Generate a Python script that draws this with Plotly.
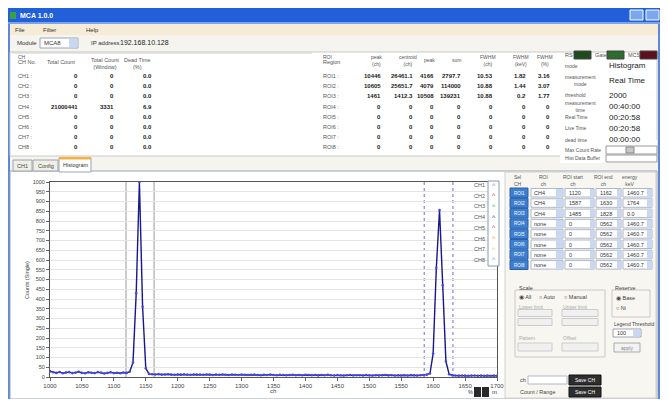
import plotly.graph_objects as go

# ---------------- data ----------------
CHANNELS = list(range(1000, 1701, 5))
COUNTS = (
    [30, 24, 21, 26, 19, 23, 25, 20, 22, 27,
     21, 19, 24, 22, 20, 25, 23, 18, 21, 24,
     20, 22, 19, 23, 21]
    + [28, 75, 430, 1000, 360, 45, 16]
    + [14, 13, 15, 12, 13, 14, 12, 11, 13, 12,
       14, 12, 11, 13, 12, 12, 11, 13, 12, 10,
       12, 11, 13, 11, 10, 12, 11, 10, 12, 11,
       10, 11, 12, 10, 9, 11, 10, 12, 10, 9,
       11, 10, 9, 10, 11, 9, 10, 9, 11, 10,
       9, 10, 8, 10, 9, 11, 9, 8, 10, 9,
       8, 9, 10, 8, 9, 9, 8, 10, 9, 8,
       9, 8, 9, 10, 8, 9, 8, 9, 8, 9,
       8, 10, 9, 8, 9, 10, 12]
    + [18, 120, 560, 856, 470, 80, 14]
    + [9, 8, 7, 8, 7, 6, 7, 8, 6, 7, 6, 7, 6, 7, 6]
)
X_TICKS = list(range(1000, 1701, 50))
Y_TICKS = list(range(0, 1001, 50))
ROI_SOLID = [1119, 1163]
ROI_DASHED = [1586, 1631]
LEGEND_NAMES = ["CH1", "CH2", "CH3", "CH4", "CH5", "CH6", "CH7", "CH8"]
LEGEND_COLORS = ["#8a8ab0", "#e03030", "#40b040", "#3030e0",
                 "#c04040", "#f0a040", "#d8d040", "#40c0e0"]

CH_ROWS = ["CH1 :", "CH2 :", "CH3 :", "CH4 :", "CH5 :", "CH6 :", "CH7 :", "CH8 :"]
TOTAL_COUNT = ["0", "0", "0", "21000441", "0", "0", "0", "0"]
WINDOW_COUNT = ["0", "0", "0", "3331", "0", "0", "0", "0"]
DEAD_TIME = ["0.0", "0.0", "0.0", "6.9", "0.0", "0.0", "0.0", "0.0"]

ROI_ROWS = ["ROI1 :", "ROI2 :", "ROI3 :", "ROI4 :", "ROI5 :", "ROI6 :", "ROI7 :", "ROI8 :"]
ROI_HEADERS = ["peak<br>(ch)", "centroid<br>(ch)", "peak", "sum", "FWHM<br>(ch)", "FWHM<br>(keV)", "FWHM<br>(%)"]
ROI_VALUES = [
    ["10446", "26461.1", "4166", "2797.7", "10.53", "1.82", "3.16"],
    ["10605", "25651.7", "4079", "114000", "10.88", "1.44", "3.07"],
    ["1461", "1412.3", "10508", "139231", "10.88", "0.2", "1.77"],
] + [["0"] * 7 for _ in range(5)]

STATUS_LABELS = ["mode", "measurement<br>mode", "threshold", "measurement<br>time",
                 "Real Time", "Live Time", "dead time"]
STATUS_VALUES = ["Histogram", "Real Time", "2000", "00:40:00", "00:20:58", "00:20:58", "00:00:00"]

SEL_ROWS = ["CH4", "CH4", "CH4", "none", "none", "none", "none", "none"]
SEL_START = ["1120", "1587", "1485", "0", "0", "0", "0", "0"]
SEL_END = ["1162", "1630", "1828", "0562", "0562", "0562", "0562", "0562"]
SEL_ENERGY = ["1460.7", "1764", "0.0", "1460.7", "1460.7", "1460.7", "1460.7", "1460.7"]

X_TITLE = "ch"
Y_TITLE = "Counts (Single)"

# ---------------- layout helpers ----------------
# The page body keeps its default 8px margin, so the figure is made 16px
# smaller than the window (no scrollbars) and all positions below are
# given in window (page) pixels.
OFF = 8
W, H = 668 - 2 * OFF, 407 - 2 * OFF
PLOT_L, PLOT_R, PLOT_T, PLOT_B = 50, 497, 182, 377   # page pixels
ML = PLOT_L - OFF
MT = PLOT_T - OFF
MR = W - (PLOT_R - OFF)
MB = H - (PLOT_B - OFF)
PW = PLOT_R - PLOT_L
PH = PLOT_B - PLOT_T
FONT = "Liberation Sans"


def px(x):
    return (x - PLOT_L) / PW


def py(y):
    return 1 - (y - PLOT_T) / PH


shapes = []
annos = []


def rect(x0, y0, x1, y1, fill, line=None, lw=1, layer="below"):
    shapes.append(dict(type="rect", xref="paper", yref="paper",
                       x0=px(x0), x1=px(x1), y0=py(y1), y1=py(y0),
                       fillcolor=fill, layer=layer,
                       line=dict(color=line or fill, width=lw if line else 0)))


def hline(x0, x1, y, color, lw=1, layer="below"):
    shapes.append(dict(type="line", xref="paper", yref="paper",
                       x0=px(x0), x1=px(x1), y0=py(y), y1=py(y),
                       line=dict(color=color, width=lw), layer=layer))


def txt(x, y, s, size=6, color="#333333", anchor="left", bold=False, angle=0):
    if bold:
        s = "<b>" + s + "</b>"
    annos.append(dict(xref="paper", yref="paper", x=px(x), y=py(y), text=s,
                      showarrow=False, xanchor=anchor, yanchor="middle",
                      textangle=angle,
                      font=dict(family=FONT, size=size, color=color),
                      borderpad=0))


# window chrome
rect(8, 8, 668, 22, "#2160d8")
rect(8, 22, 668, 24, "#7aa5ec")
rect(10, 12, 16, 19, "#3aa040")
txt(19, 15.5, "MCA 1.0.0", 7, "#ffffff", bold=True)
rect(630, 10, 643, 20, "#7aa7ee", "#ffffff")
rect(646, 10, 659, 20, "#7aa7ee", "#ffffff")
rect(8, 24, 10, 407, "#5d86dc")
rect(658, 24, 668, 407, "#5d86dc")
rect(10, 24, 658, 35, "#f6ebd6")
txt(14, 29.5, "File", 6)
txt(42, 29.5, "Filter", 6)
txt(85, 29.5, "Help", 6)

# module row
txt(16, 43, "Module", 6)
rect(40, 38, 78, 48, "#ffffff", "#9aa6b8")
txt(43, 43, "MCA8", 6)
rect(69, 39, 77, 47, "#c8d8f4")
txt(90, 43, "IP address", 6)
txt(119, 43, "192.168.10.128", 7, "#222222")

# top tables panel
rect(10, 52, 657, 156, "#ffffff", "#c8c8c8")
rect(560, 140, 657, 163, "#ffffff")
hline(12, 312, 53, "#d0d0d0")
txt(17, 57, "CH", 5, "#555555")
txt(17, 62, "CH No.", 5.5, "#555555")
txt(61, 62, "Total Count", 5.5, "#555555", anchor="center")
txt(105, 63.5, "Total Count<br>(Window)", 5.5, "#555555", anchor="center")
txt(137, 63.5, "Dead Time<br>(%)", 5.5, "#555555", anchor="center")
for i in range(8):
    yy = 76 + 10.2 * i
    txt(17, yy, CH_ROWS[i], 5.5, "#555555")
    txt(79, yy, TOTAL_COUNT[i], 6, "#222222", anchor="right", bold=True)
    txt(115, yy, WINDOW_COUNT[i], 6, "#222222", anchor="right", bold=True)
    txt(153, yy, DEAD_TIME[i], 6, "#222222", anchor="right", bold=True)

txt(322, 57, "ROI", 5, "#555555")
txt(322, 62, "Region", 5.5, "#555555")
ROI_X = [382, 414, 435, 462, 494, 527, 551]
for j, hdr in enumerate(ROI_HEADERS):
    txt(ROI_X[j] - 6, 60, hdr, 5, "#555555", anchor="center")
for i in range(8):
    yy = 76 + 10.2 * i
    txt(322, yy, ROI_ROWS[i], 5.5, "#555555")
    for j in range(7):
        txt(ROI_X[j], yy, ROI_VALUES[i][j], 6, "#222222", anchor="right", bold=True)

# status panel
txt(564, 55, "RS", 5.5, "#555555")
rect(574, 51, 591, 59, "#1e4a1e", "#444444")
txt(594, 55, "Gate", 5.5, "#555555")
rect(607, 51, 624, 59, "#2f6a2f", "#444444")
txt(627, 55, "MCS", 5.5, "#555555")
rect(640, 51, 657, 59, "#5a1020", "#444444")
STATUS_Y = [66, 80, 95, 106, 117, 128, 140]
for k in range(7):
    txt(564, STATUS_Y[k], STATUS_LABELS[k], 5, "#555555")
    txt(608, STATUS_Y[k], STATUS_VALUES[k], 8, "#222222")
txt(564, 150, "Max Count Rate", 5, "#555555")
rect(606, 146, 657, 154, "#ffffff", "#999999")
rect(626, 147, 634, 153, "#c8c8c8", "#888888")
txt(564, 158, "Hist Data Buffer", 5, "#555555")
rect(606, 155, 657, 162, "#ffffff", "#999999")

# tabs
rect(10, 171, 657, 399, "#ffffff", "#9aa4b0")
rect(13, 160, 32, 171, "#f0efe6", "#9aa4b0")
txt(22.5, 165.5, "CH1", 5.5, "#444444", anchor="center")
rect(33, 160, 58, 171, "#f0efe6", "#9aa4b0")
txt(45.5, 165.5, "Config", 5.5, "#444444", anchor="center")
rect(59, 158, 91, 172, "#ffffff", "#9aa4b0")
rect(59, 157, 91, 159.5, "#f5b040")
txt(75, 165, "Histogram", 5.5, "#333333", anchor="center")

# right control panel
rect(505, 172, 656, 398, "#f7f6f1", "#d0d0d0")
txt(518, 180, "Sel<br>CH", 5, "#555555", anchor="center")
txt(543, 180, "ROI<br>ch", 5, "#555555", anchor="center")
txt(573, 180, "ROI start<br>ch", 5, "#555555", anchor="center")
txt(603, 180, "ROI end<br>ch", 5, "#555555", anchor="center")
txt(630, 180, "energy<br>keV", 5, "#555555", anchor="center")
for i in range(8):
    y0 = 188 + 10.3 * i
    yc = y0 + 5
    rect(510, y0, 528, y0 + 9.4, "#3d80d2", "#2a5ea8")
    txt(519, yc, "ROI%d" % (i + 1), 4.5, "#ffffff", anchor="center")
    rect(531, y0 + 0.5, 563, y0 + 9, "#ffffff", "#b0b8c8")
    txt(533, yc, SEL_ROWS[i], 5.5, "#333333")
    rect(556, y0 + 1, 563, y0 + 8.5, "#c8d8f4")
    rect(565, y0 + 0.5, 594, y0 + 9, "#ffffff", "#b0b8c8")
    txt(568, yc, SEL_START[i], 5.5, "#333333")
    rect(590, y0 + 1, 594, y0 + 8.5, "#c8d8f4")
    rect(596, y0 + 0.5, 621, y0 + 9, "#ffffff", "#b0b8c8")
    txt(599, yc, SEL_END[i], 5.5, "#333333")
    rect(617, y0 + 1, 621, y0 + 8.5, "#c8d8f4")
    rect(623, y0 + 0.5, 652, y0 + 9, "#ffffff", "#b0b8c8")
    txt(626, yc, SEL_ENERGY[i], 5.5, "#333333")
    rect(647, y0 + 1, 652, y0 + 8.5, "#c8d8f4")

rect(515, 290, 605, 357, "#f7f6f1", "#c8c8c8")
txt(518, 288, "Scale", 5.5, "#444444")
txt(518, 297, "◉ All", 5.5, "#444444")
txt(538, 297, "○ Auto", 5.5, "#444444")
txt(563, 297, "○ Manual", 5.5, "#444444")
txt(518, 307, "Lower limit", 5, "#aaaaaa")
txt(562, 307, "Upper limit", 5, "#aaaaaa")
for yy in (313, 322):
    rect(518, yy - 3.5, 552, yy + 3.5, "#f0f0f0", "#cccccc")
    rect(562, yy - 3.5, 598, yy + 3.5, "#f0f0f0", "#cccccc")
txt(518, 338, "Pattern", 5, "#aaaaaa")
txt(562, 338, "Offset", 5, "#aaaaaa")
rect(518, 343, 552, 351, "#f0f0f0", "#cccccc")
rect(562, 343, 598, 351, "#f0f0f0", "#cccccc")

rect(612, 290, 650, 317, "#f7f6f1", "#c8c8c8")
txt(614, 288, "Reserve", 5.5, "#444444")
txt(615, 298, "◉ Base", 5.5, "#444444")
txt(615, 308, "○ Ni", 5.5, "#444444")
txt(613, 324, "Legend Threshold", 5, "#444444")
rect(613, 329, 641, 337, "#ffffff", "#9aa6b8")
txt(616, 333, "100", 5.5, "#333333")
rect(633, 330, 640, 336, "#c8d8f4")
rect(614, 343, 640, 352, "#f3f3f3", "#aaaaaa")
txt(627, 347.5, "apply", 5, "#888888", anchor="center")

txt(519, 380, "ch", 5.5, "#444444")
rect(528, 376, 567, 384, "#ffffff", "#b0b8c8")
rect(569, 375, 601, 385, "#2e2e2e", "#111111")
txt(585, 380, "Save CH", 5, "#ffffff", anchor="center")
txt(519, 392, "Count / Range", 5.5, "#444444")
rect(569, 387, 601, 397, "#2e2e2e", "#111111")
txt(585, 392, "Save CH", 5, "#ffffff", anchor="center")

# small buttons under chart
txt(470, 392, "%", 5.5, "#333333", anchor="center")
rect(474, 387, 481, 397, "#2a2a2a")
rect(482, 387, 489, 397, "#2a2a2a")
txt(494, 392, "m", 6, "#333333", anchor="center")

# legend (inside plot, right)
rect(488, 181, 499, 266, "#ffffff", "#8899aa", layer="above")
for i, (nm, col) in enumerate(zip(LEGEND_NAMES, LEGEND_COLORS)):
    yy = 185 + 10.7 * i
    txt(486, yy, nm, 5.5, "#555555", anchor="right")
    txt(493.5, yy, "^", 7, col, anchor="center")

# axis titles
txt(273, 391, X_TITLE, 6, "#444444", anchor="center")
txt(27, 280, Y_TITLE, 5.5, "#444444", anchor="center", angle=-90)

# ROI markers (data coordinates)
for xv in ROI_SOLID:
    shapes.append(dict(type="line", xref="x", yref="y domain", x0=xv, x1=xv, y0=0, y1=1,
                       line=dict(color="#9a9a9a", width=1), layer="below"))
for xv in ROI_DASHED:
    shapes.append(dict(type="line", xref="x", yref="y domain", x0=xv, x1=xv, y0=0, y1=1,
                       line=dict(color="#6a6ad8", width=1, dash="dot"), layer="below"))

# ---------------- figure ----------------
fig = go.Figure()
fig.add_trace(go.Scatter(
    x=CHANNELS, y=COUNTS, mode="lines+markers", name="CH4",
    line=dict(color="#17178f", width=1.4),
    marker=dict(size=2.6, color="#4848e0"),
    showlegend=False,
))

fig.update_layout(
    width=W, height=H,
    margin=dict(l=ML, r=MR, t=MT, b=MB, pad=0, autoexpand=False),
    paper_bgcolor="#f5f4ee",
    plot_bgcolor="#ffffff",
    font=dict(family=FONT, size=6, color="#444444"),
    shapes=shapes,
    annotations=annos,
    showlegend=False,
    xaxis=dict(range=[1000, 1700], tickvals=X_TICKS, ticks="outside", ticklen=3,
               tickcolor="#666666", tickfont=dict(size=6, color="#444444"),
               showgrid=False, zeroline=False, showline=True, mirror=True,
               linecolor="#555555", linewidth=1, automargin=False),
    yaxis=dict(range=[0, 1000], tickvals=Y_TICKS, ticks="outside", ticklen=3,
               tickcolor="#666666", tickfont=dict(size=5.5, color="#444444"),
               showgrid=True, gridcolor="#e4e4e4", gridwidth=1,
               zeroline=False, showline=True, mirror=True,
               linecolor="#555555", linewidth=1, automargin=False),
)

fig.write_html("out.html")
